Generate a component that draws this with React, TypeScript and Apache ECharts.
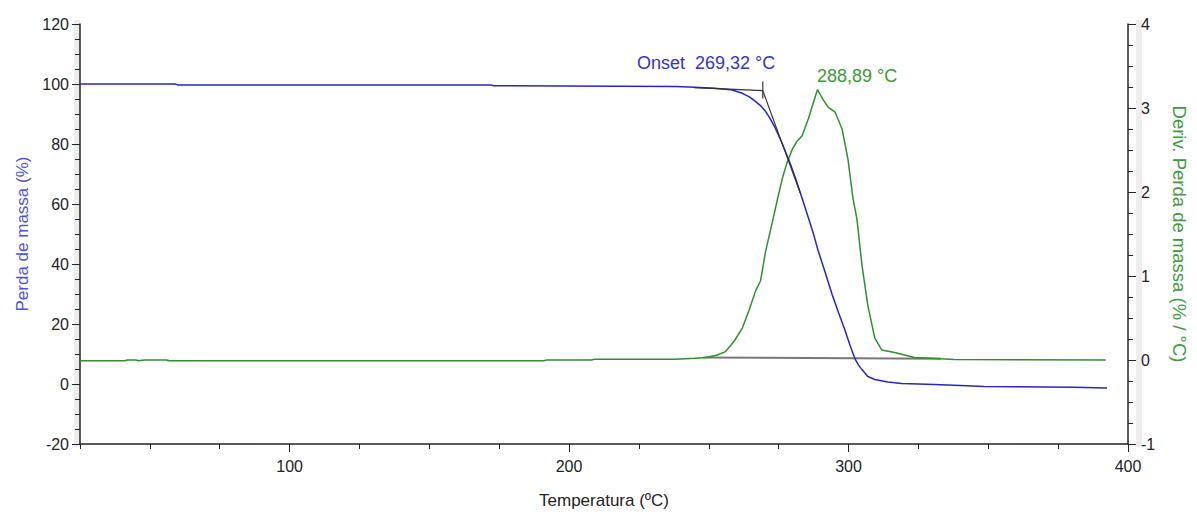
import React, { useEffect, useRef } from "react";
import * as echarts from "echarts";

// Mass loss curve (TG): temperature (°C) and mass (%)
const massTemps = [25, 59, 60, 172, 173, 238, 245, 252, 258, 262, 264.5, 266.7, 268.5, 270.3, 272, 273.8, 275.6, 277.4, 279.2, 281, 283.3, 285.6, 287.4, 289.1, 291.6, 294.1, 296.4, 298.7, 300.5, 302.3, 303.6, 304.8, 306.9, 309.4, 314, 319, 325, 330.7, 340, 348.5, 370, 380.5, 392.5];
const massValues = [100.0, 100.0, 99.7, 99.7, 99.4, 99.2, 98.9, 98.6, 98.1, 96.9, 95.7, 94.2, 92.8, 90.9, 88.4, 85.3, 81.6, 77.6, 73.3, 68.7, 62.2, 55.5, 50.2, 44.5, 37.3, 29.9, 23.8, 18.0, 13.0, 8.4, 6.3, 4.8, 2.5, 1.5, 0.7, 0.2, 0.0, -0.2, -0.5, -0.8, -1.0, -1.1, -1.3];

// Derivative curve (DTG): temperature (°C) and %/°C
const derivTemps = [25, 41, 42, 45, 46, 48, 50, 56, 57, 191, 192, 208, 209, 230, 238, 245, 249, 253, 256, 259, 262, 264.5, 266.7, 268.5, 270.3, 272.8, 274.6, 276.3, 278, 279.9, 281.5, 283.4, 285.6, 287.3, 288.89, 290.9, 292.7, 295.2, 297.7, 299.8, 301.6, 303, 304.8, 306.9, 309.4, 311.9, 316.5, 323.6, 330, 337.8, 392];
const derivValues = [-0.01, -0.01, 0.0, 0.0, -0.01, 0.0, 0.0, 0.0, -0.01, -0.01, 0.0, 0.0, 0.01, 0.01, 0.01, 0.02, 0.03, 0.06, 0.1, 0.22, 0.38, 0.6, 0.82, 0.94, 1.29, 1.65, 1.92, 2.16, 2.35, 2.51, 2.6, 2.67, 2.87, 3.05, 3.22, 3.1, 3.01, 2.95, 2.75, 2.39, 1.92, 1.68, 1.13, 0.65, 0.26, 0.12, 0.09, 0.03, 0.02, 0.005, 0.0];

// Peak integration baseline (DTG axis)
const baselineTemps = [248, 333];
const baselineValues = [0.03, 0.015];

// Onset construction (mass axis)
const onsetTemp = 269.32;
const onsetFlatTemps = [244.7, onsetTemp];
const onsetFlatValues = [98.8, 97.8];
const onsetMarkValues = [100.8, 95.2];
const onsetTangentTemps = [onsetTemp, 282.7];
const onsetTangentValues = [97.8, 63.7];

// Axis ticks
const xMajorTicks = [100, 200, 300, 400];

const onsetLabel = "Onset  269,32 °C";
const peakLabel = "288,89 °C";

const zip = (a: number[], b: number[]) => a.map((v, i) => [v, b[i]]);

const FONT = '"Liberation Sans", Arial, sans-serif';
const BLUE = "#2626c8";
const GREEN = "#2f8f2f";
const AXIS = "#222";

export default function App() {
  const ref = useRef<HTMLDivElement>(null);
  useEffect(() => {
    const chart = echarts.init(ref.current!, null, { renderer: "svg" });
    const axisLine = { show: true, onZero: false, lineStyle: { color: AXIS, width: 1.5 } };
    chart.setOption({
      animation: false,
      backgroundColor: "#fff",
      grid: { left: 80, right: 62, top: 24, bottom: 67, containLabel: false },
      xAxis: [
        {
          type: "value",
          min: 25,
          max: 400,
          interval: 25,
          position: "bottom",
          axisLine,
          axisTick: { show: true, length: 5, lineStyle: { color: AXIS, width: 1 } },
          axisLabel: { show: false },
          splitLine: { show: false },
          name: "Temperatura (ºC)",
          nameLocation: "middle",
          nameGap: 48,
          nameTextStyle: { fontFamily: FONT, fontSize: 17, color: "#222" },
        },
        {
          type: "value",
          min: 25,
          max: 400,
          position: "bottom",
          axisLine: { show: false, onZero: false },
          axisTick: { show: true, length: 8, customValues: xMajorTicks, lineStyle: { color: AXIS, width: 1 } },
          axisLabel: { show: true, customValues: xMajorTicks, margin: 14, fontFamily: FONT, fontSize: 16, color: "#222" },
          splitLine: { show: false },
        },
      ],
      yAxis: [
        {
          type: "value",
          min: -20,
          max: 120,
          interval: 20,
          position: "left",
          axisLine,
          axisTick: { show: true, length: 8, lineStyle: { color: AXIS, width: 1 } },
          minorTick: { show: true, splitNumber: 4, length: 5, lineStyle: { color: AXIS, width: 1 } },
          axisLabel: { margin: 11, fontFamily: FONT, fontSize: 16, color: "#222" },
          splitLine: { show: false },
          name: "Perda de massa (%)",
          nameLocation: "middle",
          nameRotate: 90,
          nameGap: 48,
          nameTextStyle: { fontFamily: FONT, fontSize: 17, color: "#5050dc" },
        },
        {
          type: "value",
          min: -1,
          max: 4,
          interval: 1,
          position: "right",
          axisLine,
          axisTick: { show: true, length: 8, lineStyle: { color: AXIS, width: 1 } },
          minorTick: { show: true, splitNumber: 4, length: 5, lineStyle: { color: AXIS, width: 1 } },
          axisLabel: { margin: 13, fontFamily: FONT, fontSize: 16, color: "#222" },
          splitLine: { show: false },
          name: "Deriv. Perda de massa (% / °C)",
          nameLocation: "middle",
          nameRotate: -90,
          nameGap: 42,
          nameTextStyle: { fontFamily: FONT, fontSize: 18.5, color: "#3f9a3f" },
        },
      ],
      series: [
        {
          name: "baseline",
          type: "line",
          xAxisIndex: 0,
          yAxisIndex: 1,
          data: zip(baselineTemps, baselineValues),
          showSymbol: false,
          lineStyle: { color: "#777", width: 2 },
          z: 1,
        },
        {
          name: "DTG",
          type: "line",
          xAxisIndex: 0,
          yAxisIndex: 1,
          data: zip(derivTemps, derivValues),
          showSymbol: false,
          lineStyle: { color: GREEN, width: 1.5 },
          z: 2,
        },
        {
          name: "TG",
          type: "line",
          xAxisIndex: 0,
          yAxisIndex: 0,
          data: zip(massTemps, massValues),
          showSymbol: false,
          lineStyle: { color: BLUE, width: 1.5 },
          z: 3,
        },
        {
          name: "onsetFlat",
          type: "line",
          xAxisIndex: 0,
          yAxisIndex: 0,
          data: zip(onsetFlatTemps, onsetFlatValues),
          showSymbol: false,
          lineStyle: { color: "#333", width: 1.2 },
          z: 4,
        },
        {
          name: "onsetMark",
          type: "line",
          xAxisIndex: 0,
          yAxisIndex: 0,
          data: onsetMarkValues.map((v) => [onsetTemp, v]),
          showSymbol: false,
          lineStyle: { color: "#333", width: 1.2 },
          z: 4,
        },
        {
          name: "onsetTangent",
          type: "line",
          xAxisIndex: 0,
          yAxisIndex: 0,
          data: zip(onsetTangentTemps, onsetTangentValues),
          showSymbol: false,
          lineStyle: { color: "#333", width: 1.2 },
          z: 4,
        },
      ],
      graphic: [
        {
          type: "rect",
          shape: { x: 74, y: 20, width: 6, height: 427 },
          style: { fill: "rgba(0,0,0,0.07)" },
          silent: true,
        },
        {
          type: "rect",
          shape: { x: 1136, y: 20, width: 6, height: 427 },
          style: { fill: "rgba(0,0,0,0.07)" },
          silent: true,
        },
        {
          type: "text",
          x: 637,
          y: 62.5,
          style: { text: onsetLabel, font: `18px ${FONT}`, fill: "#3232d2", verticalAlign: "middle", align: "left" },
        },
        {
          type: "text",
          x: 817,
          y: 76,
          style: { text: peakLabel, font: `18px ${FONT}`, fill: "#3a983a", verticalAlign: "middle", align: "left" },
        },
      ],
    });
    return () => chart.dispose();
  }, []);
  return (
    <div
      ref={ref}
      style={{ position: "absolute", left: 0, top: 0, width: 1197, height: 514, background: "#fff" }}
    />
  );
}
